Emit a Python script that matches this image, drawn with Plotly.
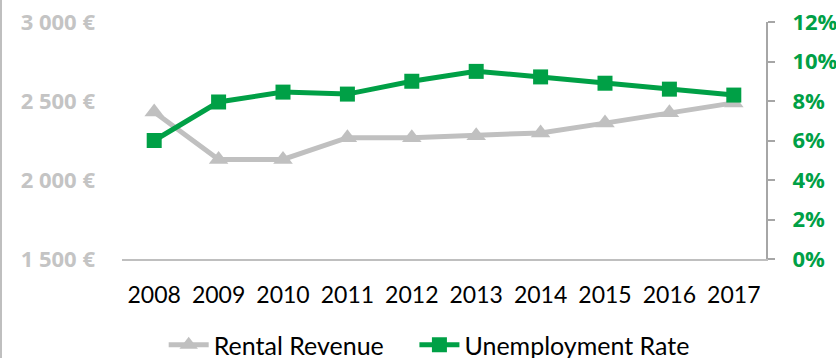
import plotly.graph_objects as go

years = ["2008", "2009", "2010", "2011", "2012", "2013", "2014", "2015", "2016", "2017"]
rental_revenue = [2430, 2130, 2130, 2268, 2268, 2280, 2298, 2360, 2426, 2488]
unemployment_rate = [6.0, 7.95, 8.45, 8.35, 9.0, 9.5, 9.22, 8.9, 8.6, 8.3]

left_tickvals = [1500, 2000, 2500, 3000]
left_ticktext = ["1 500 €", "2 000 €", "2 500 €", "3 000 €"]
right_tickvals = [0, 2, 4, 6, 8, 10, 12]
right_ticktext = ["0%", "2%", "4%", "6%", "8%", "10%", "12%"]

GRAY = "#c0c0c0"
GREEN = "#00a046"
FONT = "Lato"
BOLD_FONT = "Open Sans"

fig = go.Figure()
fig.add_trace(go.Scatter(
    x=years, y=rental_revenue, name="Rental Revenue    ", mode="lines+markers",
    line=dict(color=GRAY, width=5),
    marker=dict(symbol="triangle-up", size=17, color=GRAY),
    yaxis="y",
))
fig.add_trace(go.Scatter(
    x=years, y=unemployment_rate, name="Unemployment Rate", mode="lines+markers",
    line=dict(color=GREEN, width=5),
    marker=dict(symbol="square", size=15, color=GREEN),
    yaxis="y2",
))

fig.update_layout(
    width=836, height=358,
    margin=dict(l=122, r=70, t=22, b=99),
    paper_bgcolor="white", plot_bgcolor="white",
    font=dict(family=FONT, size=22, color="#000000"),
    showlegend=True,
    legend=dict(orientation="h", x=0.477, xanchor="center",
                yref="container", y=13 / 358, yanchor="middle",
                font=dict(family=FONT, size=25, color="#000000"),
                itemwidth=40, tracegroupgap=0),
    xaxis=dict(
        type="category", showgrid=False, zeroline=False, automargin=False,
        showline=True, linecolor="#bfbfbf", linewidth=2,
        ticks="", tickfont=dict(family=FONT, size=23, color="#000000"),
        ticklabelstandoff=14,
        range=[-0.5, 9.5],
    ),
    yaxis=dict(
        range=[1500, 3000], tickvals=left_tickvals, automargin=False,
        ticktext=["<b>" + t + "</b>" for t in left_ticktext],
        showgrid=False, zeroline=False, showline=False, ticks="",
        tickfont=dict(family=BOLD_FONT, size=22, color="#c4c4c4"),
        ticklabelstandoff=26,
    ),
    yaxis2=dict(
        range=[0, 12], tickvals=right_tickvals, automargin=False,
        ticktext=["<b>" + t + "</b>" for t in right_ticktext],
        overlaying="y", side="right",
        showgrid=False, zeroline=False,
        showline=True, linecolor="#a6a6a6", linewidth=2,
        ticks="outside", ticklen=7, tickwidth=2, tickcolor="#a6a6a6",
        tickfont=dict(family=BOLD_FONT, size=22, color=GREEN),
        ticklabelstandoff=13, ticklabeloverflow="allow",
    ),
    shapes=[dict(type="line", xref="paper", yref="paper",
                 x0=-121 / 644, x1=-121 / 644, y0=-99 / 237, y1=22 / 237 + 1,
                 line=dict(color="#bfbfbf", width=2))],
)

fig.write_html("out.html")
